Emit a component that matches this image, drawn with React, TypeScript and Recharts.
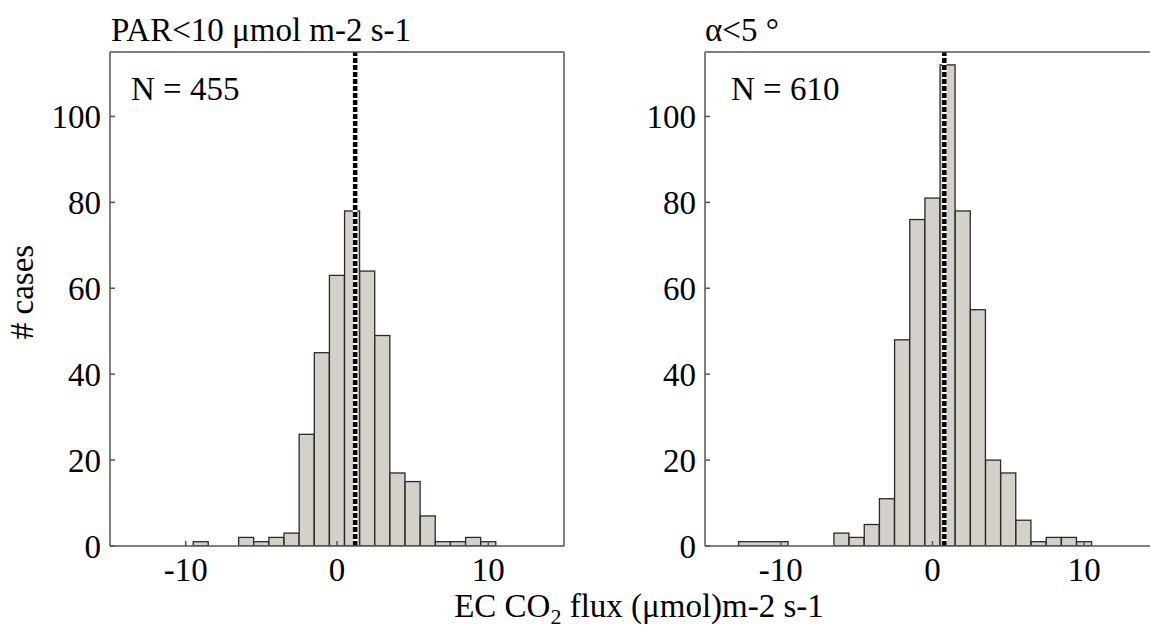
import { BarChart, Bar, XAxis, YAxis, ReferenceLine } from 'recharts'

// left panel: PAR < 10
const leftCenters = [-9, -6, -5, -4, -3, -2, -1, 0, 1, 2, 3, 4, 5, 6, 7, 8, 9, 10]
const leftCounts = [1, 2, 1, 2, 3, 26, 45, 63, 78, 64, 49, 17, 15, 7, 1, 1, 2, 1]
const leftWidths = leftCenters.map(() => 1)
const leftMean = 1.2

// right panel: alpha < 5
const rightCenters = [-11.15, -6, -5, -4, -3, -2, -1, 0, 1, 2, 3, 4, 5, 6, 7, 8, 9, 10]
const rightCounts = [1, 3, 2, 5, 11, 48, 76, 81, 112, 78, 55, 20, 17, 6, 1, 2, 2, 1]
const rightWidths = [3.3, 1, 1, 1, 1, 1, 1, 1, 1, 1, 1, 1, 1, 1, 1, 1, 1, 1]
const rightMean = 0.78

const xTicks = [-10, 0, 10]
const yTicks = [0, 20, 40, 60, 80, 100]

const FONT = '"Liberation Serif", "Times New Roman", serif'
const AXIS = '#555'

// bars are 1 unit apart, so the band width is one data unit in px
const HistBar = (props: any) => {
  const { x, y, width, height, payload } = props
  const cx = x + width / 2
  const w = payload.w * width
  return (
    <rect
      x={cx - w / 2}
      y={y}
      width={w}
      height={height}
      fill="#d4d1ca"
      stroke="#2a2a2a"
      strokeWidth={1.3}
    />
  )
}

function Panel({
  centers,
  counts,
  widths,
  mean,
  margin,
}: {
  centers: number[]
  counts: number[]
  widths: number[]
  mean: number
  margin: { top: number; right: number; bottom: number; left: number }
}) {
  const data = centers.map((c, i) => ({ c, n: counts[i], w: widths[i] }))
  const tickStyle = { fontFamily: FONT, fontSize: 33, fill: '#000' }
  return (
    <BarChart width={590} height={631} data={data} margin={margin} barCategoryGap={0}>
      <XAxis
        xAxisId="b"
        dataKey="c"
        type="number"
        domain={[-15, 15]}
        ticks={xTicks}
        allowDataOverflow
        height={40}
        tickSize={-5}
        tickMargin={17}
        tick={tickStyle}
        stroke={AXIS}
        strokeWidth={1.5}
        tickFormatter={(v: number) => (v < 0 ? `-${Math.abs(v)}` : `${v}`)}
      />
      <XAxis
        xAxisId="t"
        orientation="top"
        type="number"
        domain={[-15, 15]}
        ticks={xTicks}
        allowDataOverflow
        height={2}
        tickSize={-5}
        tick={false}
        stroke={AXIS}
        strokeWidth={1.5}
      />
      <YAxis
        yAxisId="l"
        type="number"
        domain={[0, 115]}
        ticks={yTicks}
        allowDataOverflow
        width={60}
        tickSize={-5}
        tickMargin={14}
        tick={tickStyle}
        stroke={AXIS}
        strokeWidth={1.5}
      />
      <YAxis
        yAxisId="r"
        orientation="right"
        type="number"
        domain={[0, 115]}
        ticks={yTicks}
        allowDataOverflow
        width={2}
        tickSize={-5}
        tick={false}
        stroke={AXIS}
        strokeWidth={1.5}
      />
      <Bar
        xAxisId="b"
        yAxisId="l"
        dataKey="n"
        shape={HistBar}
        isAnimationActive={false}
      />
      <ReferenceLine xAxisId="b" yAxisId="l" x={mean} stroke="#fff" strokeWidth={4.5} />
      <ReferenceLine
        xAxisId="b"
        yAxisId="l"
        x={mean}
        stroke="#000"
        strokeWidth={4.5}
        strokeDasharray="5 2"
      />
    </BarChart>
  )
}

export default function App() {
  const text = { fontFamily: FONT, fontSize: 33, fill: '#000' }
  return (
    <div
      style={{
        position: 'absolute',
        left: 0,
        top: 0,
        width: 1150,
        height: 631,
        overflow: 'hidden',
        background: '#fff',
      }}
    >
      <div style={{ position: 'absolute', left: 0, top: 0 }}>
        <Panel
          centers={leftCenters}
          counts={leftCounts}
          widths={leftWidths}
          mean={leftMean}
          margin={{ top: 50, right: 24, bottom: 45, left: 50 }}
        />
      </div>
      <div style={{ position: 'absolute', left: 590, top: 0 }}>
        <Panel
          centers={rightCenters}
          counts={rightCounts}
          widths={rightWidths}
          mean={rightMean}
          margin={{ top: 50, right: 18, bottom: 45, left: 55 }}
        />
      </div>
      <svg
        width={1150}
        height={631}
        style={{ position: 'absolute', left: 0, top: 0, pointerEvents: 'none' }}
      >
        <text x={111} y={41} {...text}>PAR&lt;10 μmol m-2 s-1</text>
        <text x={705} y={41} {...text}>α&lt;5 °</text>
        <text x={131} y={100} {...text}>N = 455</text>
        <text x={731} y={100} {...text}>N = 610</text>
        <text transform="translate(33,292) rotate(-90)" textAnchor="middle" {...text}>
          # cases
        </text>
        <text x={639} y={617} textAnchor="middle" {...text}>
          EC CO
          <tspan fontSize={22} dy={7}>2</tspan>
          <tspan dy={-7}> flux (μmol)m-2 s-1</tspan>
        </text>
      </svg>
    </div>
  )
}
